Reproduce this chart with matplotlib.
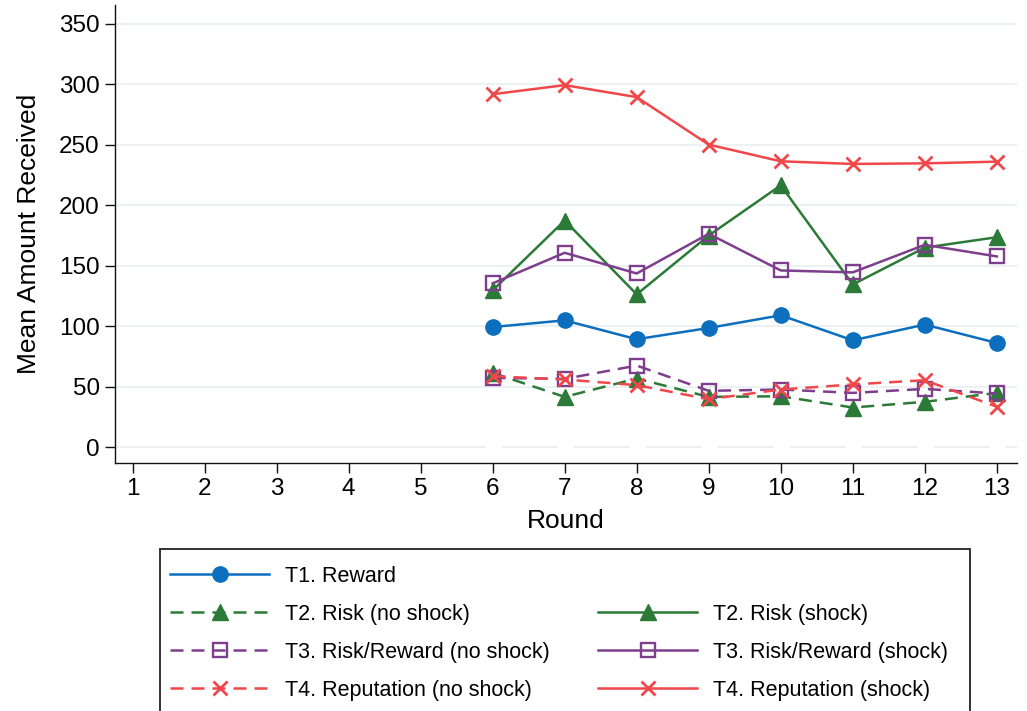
import matplotlib
matplotlib.use("Agg")
import matplotlib.pyplot as plt
from matplotlib.patches import Rectangle
from matplotlib.lines import Line2D

plt.rcParams['font.family'] = ['Liberation Sans', 'DejaVu Sans']

# ---------------- data ----------------
all_rounds = list(range(1, 14))
rounds = [6, 7, 8, 9, 10, 11, 12, 13]

t1_reward = [99.3, 104.8, 89.2, 98.5, 109.0, 88.3, 101.3, 86.1]
t2_risk_noshock = [61.3, 41.5, 56.7, 41.5, 42.0, 32.7, 37.4, 44.8]
t2_risk_shock = [129.6, 187.4, 126.3, 175.0, 216.5, 134.5, 165.0, 173.6]
t3_rr_noshock = [57.2, 56.4, 67.4, 46.5, 47.6, 44.8, 48.1, 44.3]
t3_rr_shock = [135.4, 160.7, 143.6, 176.4, 146.1, 144.5, 167.3, 157.7]
t4_rep_noshock = [58.6, 55.9, 51.2, 39.6, 47.6, 51.8, 55.3, 33.3]
t4_rep_shock = [291.9, 299.4, 289.5, 250.2, 236.4, 234.2, 234.7, 236.1]
hidden_zero = [0, 0, 0, 0, 0, 0, 0, 0]

y_ticks = [0, 50, 100, 150, 200, 250, 300, 350]

labels = ["T1. Reward",
          "T2. Risk (no shock)", "T2. Risk (shock)",
          "T3. Risk/Reward (no shock)", "T3. Risk/Reward (shock)",
          "T4. Reputation (no shock)", "T4. Reputation (shock)"]

# ---------------- style ----------------
BLUE = "#0b6fbe"
GREEN = "#2b7a37"
PURPLE = "#7d3f8c"
RED = "#f0474b"
DASH = (0, (5.2, 3.2))
LW = 1.8

W, H = 1027, 711
fig = plt.figure(figsize=(W / 100, H / 100), dpi=100)
ax = fig.add_axes([115 / W, 1 - 463 / H, (1017 - 115) / W, (463 - 5) / H])

ax.set_xlim(0.757, 13.28)
ax.set_ylim(-13.2, 365.7)

for v in y_ticks:
    ax.axhline(v, color="#eaf1f3", lw=1.3, zorder=0)

# hidden (white) series sitting on the zero line
ax.plot(rounds, hidden_zero, ls='none', marker='_', color='white',
        markersize=11, mew=2.5, zorder=1)

h_t1, = ax.plot(rounds, t1_reward, color=BLUE, lw=LW, marker='o', ms=11,
                mfc=BLUE, mec=BLUE)
h_t2n, = ax.plot(rounds, t2_risk_noshock, color=GREEN, lw=LW, ls=DASH,
                 marker='^', ms=11, mfc=GREEN, mec=GREEN)
h_t2s, = ax.plot(rounds, t2_risk_shock, color=GREEN, lw=LW, marker='^',
                 ms=11, mfc=GREEN, mec=GREEN)
h_t3n, = ax.plot(rounds, t3_rr_noshock, color=PURPLE, lw=LW, ls=DASH,
                 marker='s', ms=9.5, mfc='none', mec=PURPLE, mew=1.7)
h_t3s, = ax.plot(rounds, t3_rr_shock, color=PURPLE, lw=LW, marker='s',
                 ms=9.5, mfc='none', mec=PURPLE, mew=1.7)
h_t4n, = ax.plot(rounds, t4_rep_noshock, color=RED, lw=LW, ls=DASH,
                 marker='x', ms=9.5, mec=RED, mew=2.0)
h_t4s, = ax.plot(rounds, t4_rep_shock, color=RED, lw=LW, marker='x',
                 ms=9.5, mec=RED, mew=2.0)
blank = Line2D([], [], color='none')

for s in ['top', 'right']:
    ax.spines[s].set_visible(False)
for s in ['left', 'bottom']:
    ax.spines[s].set_linewidth(1.0)
    ax.spines[s].set_color('#111111')

ax.set_xticks(all_rounds)
ax.set_xticklabels([str(r) for r in all_rounds])
ax.set_yticks(y_ticks)
ax.set_yticklabels([str(v) for v in y_ticks])
ax.tick_params(axis='both', direction='out', length=7, width=1.0,
               labelsize=17.5, pad=4, color='#111111')

ax.set_xlabel("Round", fontsize=19, labelpad=6)
ax.set_ylabel("Mean Amount Received", fontsize=19, labelpad=13)

# ---------------- legend ----------------
leg_kw = dict(frameon=False, fontsize=15.5, handlelength=4.6,
              handletextpad=0.75, labelspacing=0.79, borderpad=0,
              borderaxespad=0, loc='upper left')
leg1 = fig.legend([h_t1, h_t2n, h_t3n, h_t4n],
                  [labels[0], labels[1], labels[3], labels[5]],
                  bbox_to_anchor=(170 / W, 1 - 566 / H), **leg_kw)
leg2 = fig.legend([blank, h_t2s, h_t3s, h_t4s],
                  [" ", labels[2], labels[4], labels[6]],
                  bbox_to_anchor=(598 / W, 1 - 566 / H), **leg_kw)

box = Rectangle((160 / W, -0.02), (970 - 160) / W, 0.02 + (711 - 549) / H,
                transform=fig.transFigure, fill=False, edgecolor='#222222',
                lw=1.3, clip_on=False)
fig.patches.append(box)

fig.savefig("out.png", dpi=100)
